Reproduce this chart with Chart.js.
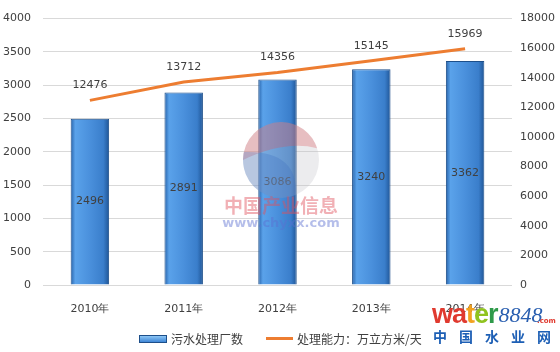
<!DOCTYPE html>
<html>
<head>
<meta charset="utf-8">
<script src="https://cdn.jsdelivr.net/npm/chart.js@4"></script>
<style>
  body { margin: 0; background: #fff; }
  #wrap { position: relative; width: 560px; height: 352px; }
  .legend { position: absolute; top: 328px; font: 12px "Noto Sans CJK SC", sans-serif; color: #404040; }
  .legend span { display: inline-block; vertical-align: middle; }
</style>
</head>
<body>
<div id="wrap">
  <canvas id="chart" width="560" height="352"></canvas>
  <div class="legend" style="left:139px"><span style="width:26px;height:6px;border:1px solid #1d4f8a;background:linear-gradient(#8cc6f5,#3f86d6);margin-right:4px"></span><span>污水处理厂数</span></div>
  <div class="legend" style="left:266px"><span style="width:27px;height:3px;background:#ed7d31;margin-right:4px"></span><span>处理能力：万立方米/天</span></div>
</div>
<script>
// chart data
const years = ['2010年', '2011年', '2012年', '2013年', '2014年'];
const plants = [2496, 2891, 3086, 3240, 3362];
const capacity = [12476, 13712, 14356, 15145, 15969];
const leftTicks = [0, 500, 1000, 1500, 2000, 2500, 3000, 3500, 4000];
const rightTicks = [0, 2000, 4000, 6000, 8000, 10000, 12000, 14000, 16000, 18000];

const tickFont = { family: 'DejaVu Sans', size: 11 };
const barShare = 0.41;

function barFill(context) {
    const chart = context.chart;
    const xs = chart.scales.x;
    if (!xs || context.dataIndex === undefined || !chart.chartArea) return '#4a90dc';
    const cx = xs.getPixelForValue(context.dataIndex);
    const w = (chart.chartArea.width / years.length) * barShare;
    const x0 = cx - w / 2;
    const g = chart.ctx.createLinearGradient(x0, 0, x0 + w, 0);
    g.addColorStop(0, '#2763aa');
    g.addColorStop(0.12, '#5aa2ea');
    g.addColorStop(0.5, '#4a90dc');
    g.addColorStop(0.85, '#3a7ecb');
    g.addColorStop(1, '#1f5596');
    return g;
}

// value labels + watermarks
const labelsPlugin = {
    id: 'valueLabels',
    afterDatasetsDraw(chart) {
        const ctx = chart.ctx;
        ctx.save();
        ctx.font = '11px "DejaVu Sans"';
        ctx.textAlign = 'center';
        ctx.textBaseline = 'middle';
        ctx.fillStyle = '#404040';
        chart.getDatasetMeta(0).data.forEach((bar, i) => {
            ctx.fillText(plants[i], bar.x, (bar.y + bar.base) / 2);
        });
        chart.getDatasetMeta(1).data.forEach((pt, i) => {
            ctx.fillText(capacity[i], pt.x, pt.y - 15);
        });

        // chyxx watermark
        ctx.globalAlpha = 0.3;
        ctx.beginPath();
        ctx.arc(281, 160, 38, 0, Math.PI * 2);
        ctx.fillStyle = '#c0c0c8';
        ctx.fill();
        ctx.beginPath();
        ctx.arc(281, 160, 38, Math.PI * 1.0, Math.PI * 1.9);
        ctx.quadraticCurveTo(285, 140, 243, 160);
        ctx.fillStyle = '#d9535a';
        ctx.fill();
        ctx.beginPath();
        ctx.moveTo(244, 152);
        ctx.quadraticCurveTo(298, 150, 296, 195);
        ctx.arc(281, 160, 38, Math.PI * 0.38, Math.PI * 1.05);
        ctx.fillStyle = '#3f6fc0';
        ctx.fill();
        ctx.globalAlpha = 0.45;
        ctx.font = 'bold 19px "Noto Sans CJK SC"';
        ctx.fillStyle = '#e0505a';
        ctx.fillText('中国产业信息', 281, 206);
        ctx.font = 'bold 13px "DejaVu Sans"';
        ctx.fillStyle = '#5a6fd0';
        ctx.fillText('www.chyxx.com', 281, 224);
        ctx.restore();

        // water8848 logo
        ctx.save();
        ctx.textBaseline = 'alphabetic';
        ctx.textAlign = 'left';
        ctx.font = 'bold 27px "Liberation Sans"';
        const parts = [['w', '#e03a2f'], ['a', '#e03a2f'], ['t', '#f2a21f'], ['e', '#8fc31f'], ['r', '#2f9a4a']];
        let x = 432;
        parts.forEach(p => {
            ctx.fillStyle = p[1];
            ctx.fillText(p[0], x, 323);
            x += ctx.measureText(p[0]).width - 1;
        });
        ctx.font = 'italic 22px "Liberation Serif"';
        ctx.fillStyle = '#2a5fb0';
        ctx.fillText('8848', x + 1, 322);
        ctx.font = 'bold 7px "DejaVu Sans"';
        ctx.fillStyle = '#e03a2f';
        ctx.fillText('.com', 537, 323);
        ctx.font = 'bold 14px "Noto Sans CJK SC"';
        ctx.fillStyle = '#1d5fb5';
        ['中', '国', '水', '业', '网'].forEach((c, i) => ctx.fillText(c, 433 + i * 26, 342));
        ctx.restore();
    }
};

new Chart(document.getElementById('chart'), {
    data: {
        labels: years,
        datasets: [
            {
                type: 'bar',
                label: '污水处理厂数',
                data: plants,
                yAxisID: 'y',
                backgroundColor: barFill,
                borderColor: '#1d4f8a',
                borderWidth: 1,
                categoryPercentage: 1,
                barPercentage: barShare,
                order: 2
            },
            {
                type: 'line',
                label: '处理能力：万立方米/天',
                data: capacity,
                yAxisID: 'y1',
                borderColor: '#ed7d31',
                borderWidth: 3,
                pointRadius: 0,
                tension: 0,
                order: 1
            }
        ]
    },
    options: {
        responsive: false,
        animation: false,
        layout: { padding: { top: 9, left: 0, right: 0, bottom: 0 } },
        plugins: {
            legend: { display: false },
            tooltip: { enabled: false }
        },
        scales: {
            x: {
                grid: { display: false },
                border: { display: false },
                ticks: { font: tickFont, color: '#404040', padding: 10 },
                afterFit(scale) { scale.height = 67; }
            },
            y: {
                position: 'left',
                min: 0,
                max: 4000,
                afterBuildTicks(scale) { scale.ticks = leftTicks.map(v => ({ value: v })); },
                grid: { color: '#d9d9d9', drawTicks: false },
                border: { display: false },
                ticks: { font: tickFont, color: '#404040', padding: 12, callback: v => String(v) },
                afterFit(scale) { scale.width = 43; }
            },
            y1: {
                position: 'right',
                min: 0,
                max: 18000,
                afterBuildTicks(scale) { scale.ticks = rightTicks.map(v => ({ value: v })); },
                grid: { display: false, drawTicks: false },
                border: { display: false },
                ticks: { font: tickFont, color: '#404040', padding: 8, callback: v => String(v) },
                afterFit(scale) { scale.width = 48; }
            }
        }
    },
    plugins: [labelsPlugin]
});
</script>
</body>
</html>
